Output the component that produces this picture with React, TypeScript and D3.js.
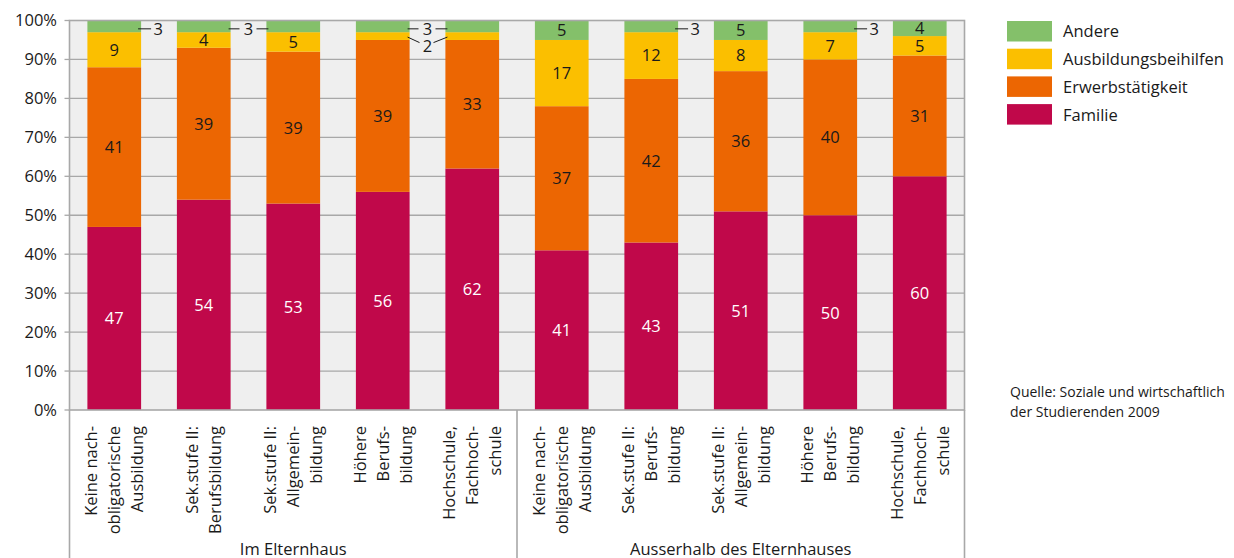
import React from "react";
import * as d3 from "d3";

const seriesNames = ["Familie", "Erwerbstätigkeit", "Ausbildungsbeihilfen", "Andere"];
const seriesColors = ["#c0084a", "#ec6602", "#fbbf00", "#84c06a"];

const categoryLines: string[][] = [
  ["Keine nach-", "obligatorische", "Ausbildung"],
  ["Sek.stufe II:", "Berufsbildung"],
  ["Sek.stufe II:", "Allgemein-", "bildung"],
  ["Höhere", "Berufs-", "bildung"],
  ["Hochschule,", "Fachhoch-", "schule"],
  ["Keine nach-", "obligatorische", "Ausbildung"],
  ["Sek.stufe II:", "Berufs-", "bildung"],
  ["Sek.stufe II:", "Allgemein-", "bildung"],
  ["Höhere", "Berufs-", "bildung"],
  ["Hochschule,", "Fachhoch-", "schule"],
];
const groupNames = ["Im Elternhaus", "Ausserhalb des Elternhauses"];

const familie = [47, 54, 53, 56, 62, 41, 43, 51, 50, 60];
const erwerb = [41, 39, 39, 39, 33, 37, 42, 36, 40, 31];
const ausbildung = [9, 4, 5, 2, 2, 17, 12, 8, 7, 5];
const andere = [3, 3, 3, 3, 3, 5, 3, 5, 3, 4];

const yTicks = [0, 10, 20, 30, 40, 50, 60, 70, 80, 90, 100];

// callout groups for small segments (series index, bars sharing a label)
const calloutGroups: { s: number; bars: number[] }[] = [
  { s: 3, bars: [0] },
  { s: 3, bars: [1, 2] },
  { s: 3, bars: [3, 4] },
  { s: 3, bars: [6] },
  { s: 3, bars: [8] },
  { s: 2, bars: [3, 4] },
];

const FONT = "'Open Sans', Lato, sans-serif";
const DARK = "#1a1a1a";
const FS = 16.5;

export default function App() {
  const W = 1234, H = 558;
  const left = 69.5, right = 964.5, top = 20.5, bottom = 410;

  const idx = categoryLines.map((_, i) => i);
  const x = d3.scaleBand<number>().domain(idx).range([left, right]).paddingInner(0.4).paddingOuter(0.2);
  const y = d3.scaleLinear().domain([0, 100]).range([bottom, top]);

  const rows = idx.map((i) => ({
    i,
    Familie: familie[i],
    "Erwerbstätigkeit": erwerb[i],
    Ausbildungsbeihilfen: ausbildung[i],
    Andere: andere[i],
  }));
  const stack = d3.stack<any>().keys(seriesNames)(rows);

  const bw = x.bandwidth();
  const step = x.step();

  const callouts: React.ReactNode[] = [];
  calloutGroups.forEach((g, gi) => {
    const seg = stack[g.s];
    const b0 = g.bars[0];
    const d0 = seg[b0];
    const segMid = y((d0[0] + d0[1]) / 2);
    const val = seg[b0][1] - seg[b0][0];
    const isBelow = g.s === 2;
    if (g.bars.length === 2) {
      const edgeL = (x(g.bars[0]) as number) + bw;
      const edgeR = x(g.bars[1]) as number;
      const mid = (edgeL + edgeR) / 2;
      if (!isBelow) {
        const ly = segMid + 2.5;
        callouts.push(
          <g key={gi}>
            <line x1={edgeL - 2} x2={mid - 9} y1={ly} y2={ly} stroke={DARK} strokeWidth={1} />
            <line x1={mid + 8} x2={edgeR + 2} y1={ly} y2={ly} stroke={DARK} strokeWidth={1} />
            <text x={mid} y={ly} dy="0.36em" textAnchor="middle" fontSize={FS} fill={DARK}>{val}</text>
          </g>
        );
      } else {
        const ly = segMid + 10;
        callouts.push(
          <g key={gi}>
            <line x1={edgeL - 2} y1={segMid + 1} x2={mid - 8} y2={segMid + 6.5} stroke={DARK} strokeWidth={1} />
            <line x1={mid + 6} y1={segMid + 6.5} x2={edgeR + 2} y2={segMid + 1} stroke={DARK} strokeWidth={1} />
            <text x={mid} y={ly} dy="0.36em" textAnchor="middle" fontSize={FS} fill={DARK}>{val}</text>
          </g>
        );
      }
    } else {
      const edge = (x(b0) as number) + bw;
      const ly = segMid + 2.5;
      callouts.push(
        <g key={gi}>
          <line x1={edge - 3} x2={edge + 10} y1={ly} y2={ly} stroke={DARK} strokeWidth={1} />
          <text x={edge + 17} y={ly} dy="0.36em" textAnchor="middle" fontSize={FS} fill={DARK}>{val}</text>
        </g>
      );
    }
  });

  const sepX = left + step * 5;
  const groupCenters = [(left + sepX) / 2, (sepX + right) / 2];

  return (
    <svg width={W} height={H} style={{ position: "absolute", left: 0, top: 0 }} fontFamily={FONT}>
      <rect x={0} y={0} width={W} height={H} fill="#ffffff" />
      <rect x={left} y={top} width={right - left} height={bottom - top} fill="#efefef" />
      {yTicks.slice(1, -1).map((t) => (
        <line key={t} x1={left} x2={right} y1={y(t)} y2={y(t)} stroke="#a8a8a8" strokeWidth={1.3} />
      ))}
      {stack.map((s, si) =>
        s.map((d, i) => (
          <rect key={si + "-" + i} x={x(i)} y={y(d[1])} width={bw} height={y(d[0]) - y(d[1])} fill={seriesColors[si]} />
        ))
      )}
      <rect x={left} y={top} width={right - left} height={bottom - top} fill="none" stroke="#a8a8a8" strokeWidth={1.6} />
      {/* y axis ticks and labels */}
      {yTicks.map((t) => (
        <g key={t}>
          <line x1={left - 5} x2={left} y1={y(t)} y2={y(t)} stroke="#a8a8a8" strokeWidth={1.3} />
          <text x={57} y={y(t)} dy="0.36em" textAnchor="end" fontSize={FS} fill={DARK}>{t}%</text>
        </g>
      ))}
      {/* vertical separators below axis */}
      {[left, sepX, right].map((vx, i) => (
        <line key={i} x1={vx} x2={vx} y1={bottom} y2={H} stroke="#a8a8a8" strokeWidth={1.6} />
      ))}
      {/* segment labels */}
      {stack.map((s, si) =>
        s.map((d, i) => {
          const v = d[1] - d[0];
          if (v < 4) return null;
          return (
            <text key={"l" + si + "-" + i} x={(x(i) as number) + bw / 2} y={y((d[0] + d[1]) / 2)} dy="0.36em"
              textAnchor="middle" fontSize={FS} fill={si === 0 ? "#ffffff" : DARK}>{v}</text>
          );
        })
      )}
      {callouts}
      {/* category labels */}
      {categoryLines.map((lines, i) => {
        const cx = (x(i) as number) + bw / 2;
        const n = lines.length;
        return lines.map((ln, li) => {
          const lx = cx + (li - (n - 1) / 2) * 23;
          return (
            <text key={i + "-" + li} transform={`translate(${lx},426) rotate(-90)`} dy="0.36em"
              textAnchor="end" fontSize={FS} fill={DARK}>{ln}</text>
          );
        });
      })}
      {groupNames.map((g, i) => (
        <text key={g} x={groupCenters[i]} y={555} textAnchor="middle" fontSize={FS} fill={DARK}>{g}</text>
      ))}
      {/* legend */}
      {[3, 2, 1, 0].map((si, k) => (
        <g key={si} transform={`translate(1007,${21 + k * 27.7})`}>
          <rect x={0} y={0} width={45} height={20.5} fill={seriesColors[si]} />
          <text x={56} y={10.5} dy="0.36em" fontSize={FS} fill={DARK}>{seriesNames[si]}</text>
        </g>
      ))}
      <text x={1010} y={391.5} dy="0.36em" fontSize={14} fill={DARK}>Quelle: Soziale und wirtschaftlich</text>
      <text x={1010} y={411.5} dy="0.36em" fontSize={14} fill={DARK}>der Studierenden 2009</text>
    </svg>
  );
}
